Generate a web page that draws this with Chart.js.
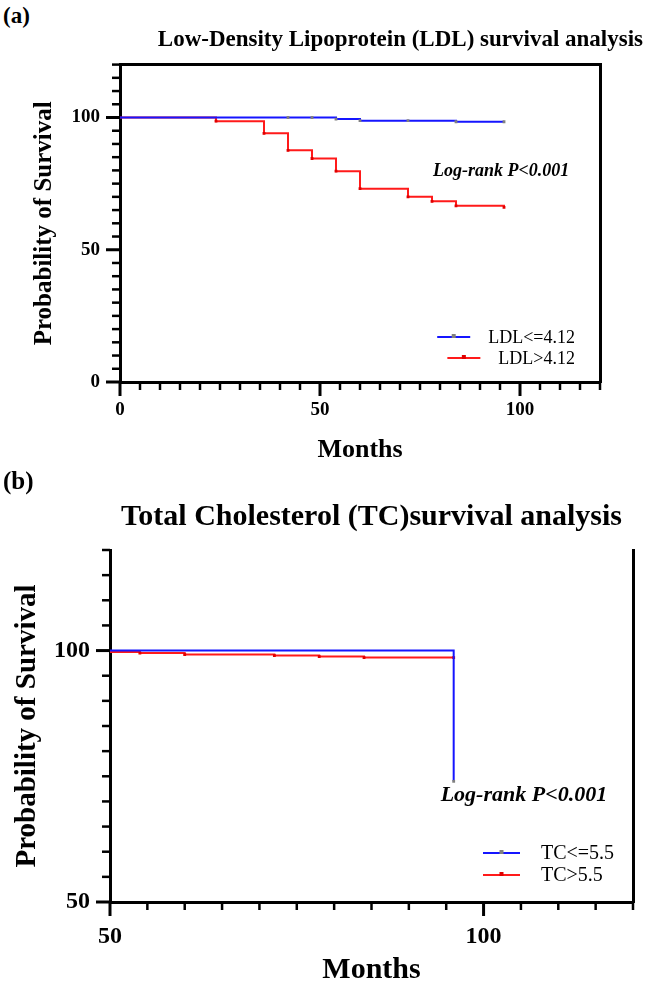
<!DOCTYPE html>
<html>
<head>
<meta charset="utf-8">
<script src="https://cdn.jsdelivr.net/npm/chart.js@4.4.1/dist/chart.umd.min.js"></script>
<style>
  html, body { margin: 0; padding: 0; background: #fff; }
  #wrap { position: relative; width: 645px; height: 989px; background: #fff; }
  canvas { position: absolute; left: 0; }
  .tag { position: absolute; left: 3px; font: bold 23px "Liberation Serif", serif; line-height: 1; color: #000; }
</style>
</head>
<body>
<div id="wrap">
  <div class="tag" style="top:4px">(a)</div>
  <canvas id="chartA" width="645" height="470" style="top:0"></canvas>
  <div class="tag" style="top:468px;font-size:25px">(b)</div>
  <canvas id="chartB" width="645" height="519" style="top:470px"></canvas>
</div>
<script>
// (a) LDL survival
const ldlLowMonths = [0, 42, 48, 54, 60, 72, 84, 96];
const ldlLowSurvival = [100, 100, 100, 99.4, 98.8, 98.8, 98.4, 98.4];
const ldlHighMonths = [0, 24, 36, 42, 48, 54, 60, 72, 78, 84, 96];
const ldlHighSurvival = [100, 98.6, 94.0, 87.6, 84.5, 79.7, 73.1, 70.0, 68.3, 66.6, 66.0];

// (b) TC survival (axes start at 50)
const tcLowMonths = [50, 96];
const tcLowSurvival = [100, 74];
const tcHighMonths = [50, 54, 60, 72, 78, 84, 96];
const tcHighSurvival = [99.7, 99.5, 99.2, 99.0, 98.8, 98.6, 98.6];

const labelTicks = [0, 50, 100];
const pText = 'Log-rank P<0.001';

Chart.defaults.font.family = '"Liberation Serif", serif';
Chart.defaults.color = '#000';

const toPoints = (xs, ys) => xs.map((x, i) => ({x: x, y: ys[i]}));

// outward ticks every 5 units, longer at the labelled values
const axisTicks = {
  id: 'axisTicks',
  afterDraw(chart) {
    const ctx = chart.ctx;
    ctx.save();
    ctx.strokeStyle = '#000';
    ['x', 'y'].forEach(id => {
      const s = chart.scales[id];
      for (let v = s.min; v <= s.max; v += 5) {
        const major = labelTicks.includes(v);
        const len = major ? 14 : 8;
        const p = s.getPixelForValue(v);
        ctx.lineWidth = major ? 3 : 2.5;
        ctx.beginPath();
        if (id === 'x') { ctx.moveTo(p, s.top); ctx.lineTo(p, s.top + len); }
        else { ctx.moveTo(s.right, p); ctx.lineTo(s.right - len, p); }
        ctx.stroke();
      }
    });
    ctx.restore();
  }
};

// legend drawn inside the plot, bottom right
const kmLegend = {
  id: 'kmLegend',
  afterDatasetsDraw(chart, args, opts) {
    const {ctx, chartArea} = chart;
    ctx.save();
    ctx.font = opts.font;
    ctx.textBaseline = 'middle';
    chart.data.datasets.forEach((ds, i) => {
      const y = chartArea.bottom - opts.bottom + i * opts.rowHeight;
      const w = ctx.measureText(ds.label).width;
      const textLeft = opts.align === 'right' ? chartArea.right - opts.edge - w : chartArea.right - opts.edge;
      const x1 = textLeft - opts.gap;
      const x0 = x1 - opts.lineLength;
      ctx.strokeStyle = ds.borderColor;
      ctx.lineWidth = 2;
      ctx.beginPath();
      ctx.moveTo(x0, y);
      ctx.lineTo(x1, y);
      ctx.stroke();
      ctx.fillStyle = ds.pointBackgroundColor;
      ctx.fillRect((x0 + x1) / 2 - 2, y - 3, 4, 4);
      ctx.fillStyle = '#000';
      ctx.fillText(ds.label, textLeft, y + 1);
    });
    ctx.restore();
  }
};

// p-value note placed in data units
const pNote = {
  id: 'pNote',
  afterDatasetsDraw(chart, args, opts) {
    const {ctx, scales} = chart;
    ctx.save();
    ctx.font = opts.font;
    ctx.fillStyle = '#000';
    ctx.textAlign = 'center';
    ctx.textBaseline = 'middle';
    ctx.fillText(opts.text, scales.x.getPixelForValue(opts.x), scales.y.getPixelForValue(opts.y));
    ctx.restore();
  }
};

function kmDataset(label, xs, ys, color, markColor) {
  return {
    label: label,
    data: toPoints(xs, ys),
    borderColor: color,
    borderWidth: 2,
    stepped: 'before',
    fill: false,
    pointStyle: 'rect',
    pointRadius: ctx => ctx.dataIndex === 0 ? 0 : 2,
    pointBorderWidth: 0,
    pointBackgroundColor: markColor,
    pointHoverRadius: 0
  };
}

function axis(min, max, tickFont, tickPad, titleText, titleFont, titlePad, size, horizontal) {
  return {
    type: 'linear',
    position: horizontal ? 'bottom' : 'left',
    min: min,
    max: max,
    border: {display: true, width: 3, color: '#000'},
    // tick marks themselves come from the axisTicks plugin
    grid: {display: true, drawOnChartArea: false, drawTicks: true, tickLength: 8, tickColor: 'rgba(0,0,0,0)'},
    ticks: {
      stepSize: 5,
      autoSkip: false,
      maxRotation: 0,
      padding: tickPad,
      font: {size: tickFont, weight: 'bold'},
      callback: v => labelTicks.includes(v) ? String(v) : ''
    },
    title: {display: true, text: titleText, font: {size: titleFont, weight: 'bold'}, padding: titlePad},
    afterFit(scale) {
      if (horizontal) scale.height = size; else scale.width = size;
    }
  };
}

new Chart(document.getElementById('chartA'), {
  type: 'line',
  data: {
    datasets: [
      kmDataset('LDL<=4.12', ldlLowMonths, ldlLowSurvival, '#1515ff', '#808080'),
      kmDataset('LDL>4.12', ldlHighMonths, ldlHighSurvival, '#ff1a1a', '#e00000')
    ]
  },
  options: {
    responsive: false,
    animation: false,
    devicePixelRatio: 1,
    layout: {padding: {left: 0, right: 2, top: 0, bottom: 0}},
    scales: {
      x: axis(0, 120, 19, 9, 'Months', 26, {top: 0, bottom: 4}, 88, true),
      y: axis(0, 120, 19, 12, 'Probability of Survival', 25, {top: 30, bottom: 0}, 120, false),
      xT: {
        type: 'linear', position: 'top', min: 0, max: 120,
        border: {display: true, width: 3, color: '#000'},
        grid: {display: false}, ticks: {display: false},
        afterFit(scale) { scale.height = 0; }
      },
      yR: {
        type: 'linear', position: 'right', min: 0, max: 120,
        border: {display: true, width: 3, color: '#000'},
        grid: {display: false}, ticks: {display: false},
        afterFit(scale) { scale.width = 43; }
      }
    },
    plugins: {
      legend: {display: false},
      tooltip: {enabled: false},
      title: {
        display: true,
        text: 'Low-Density Lipoprotein (LDL) survival analysis',
        align: 'end',
        font: {size: 23, weight: 'bold'},
        padding: {top: 26, bottom: 11}
      },
      kmLegend: {font: '18px "Liberation Serif"', align: 'right', edge: 25, bottom: 45, rowHeight: 21, gap: 18, lineLength: 33},
      pNote: {text: pText, x: 95.3, y: 79.5, font: 'italic bold 18px "Liberation Serif"'}
    }
  },
  plugins: [axisTicks, kmLegend, pNote]
});

new Chart(document.getElementById('chartB'), {
  type: 'line',
  data: {
    datasets: [
      kmDataset('TC<=5.5', tcLowMonths, tcLowSurvival, '#1515ff', '#808080'),
      kmDataset('TC>5.5', tcHighMonths, tcHighSurvival, '#ff1a1a', '#e00000')
    ]
  },
  options: {
    responsive: false,
    animation: false,
    devicePixelRatio: 1,
    layout: {padding: {left: 0, right: 0, top: 0, bottom: 0}},
    scales: {
      x: axis(50, 120, 24, 12, 'Months', 30, {top: 0, bottom: 1}, 87, true),
      y: axis(50, 120, 24, 12, 'Probability of Survival', 29, {top: 10, bottom: 0}, 110, false),
      yR: {
        type: 'linear', position: 'right', min: 50, max: 120,
        border: {display: true, width: 3, color: '#000'},
        grid: {display: false}, ticks: {display: false},
        afterFit(scale) { scale.width = 8; }
      }
    },
    plugins: {
      legend: {display: false},
      tooltip: {enabled: false},
      title: {
        display: true,
        text: 'Total Cholesterol (TC)survival analysis',
        align: 'center',
        fullSize: false,
        font: {size: 30, weight: 'bold'},
        padding: {top: 29, bottom: 15}
      },
      kmLegend: {font: '20px "Liberation Serif"', align: 'left', edge: 92, bottom: 49, rowHeight: 22, gap: 21, lineLength: 37},
      pNote: {text: pText, x: 105.4, y: 71.3, font: 'italic bold 22px "Liberation Serif"'}
    }
  },
  plugins: [axisTicks, kmLegend, pNote]
});
</script>
</body>
</html>
